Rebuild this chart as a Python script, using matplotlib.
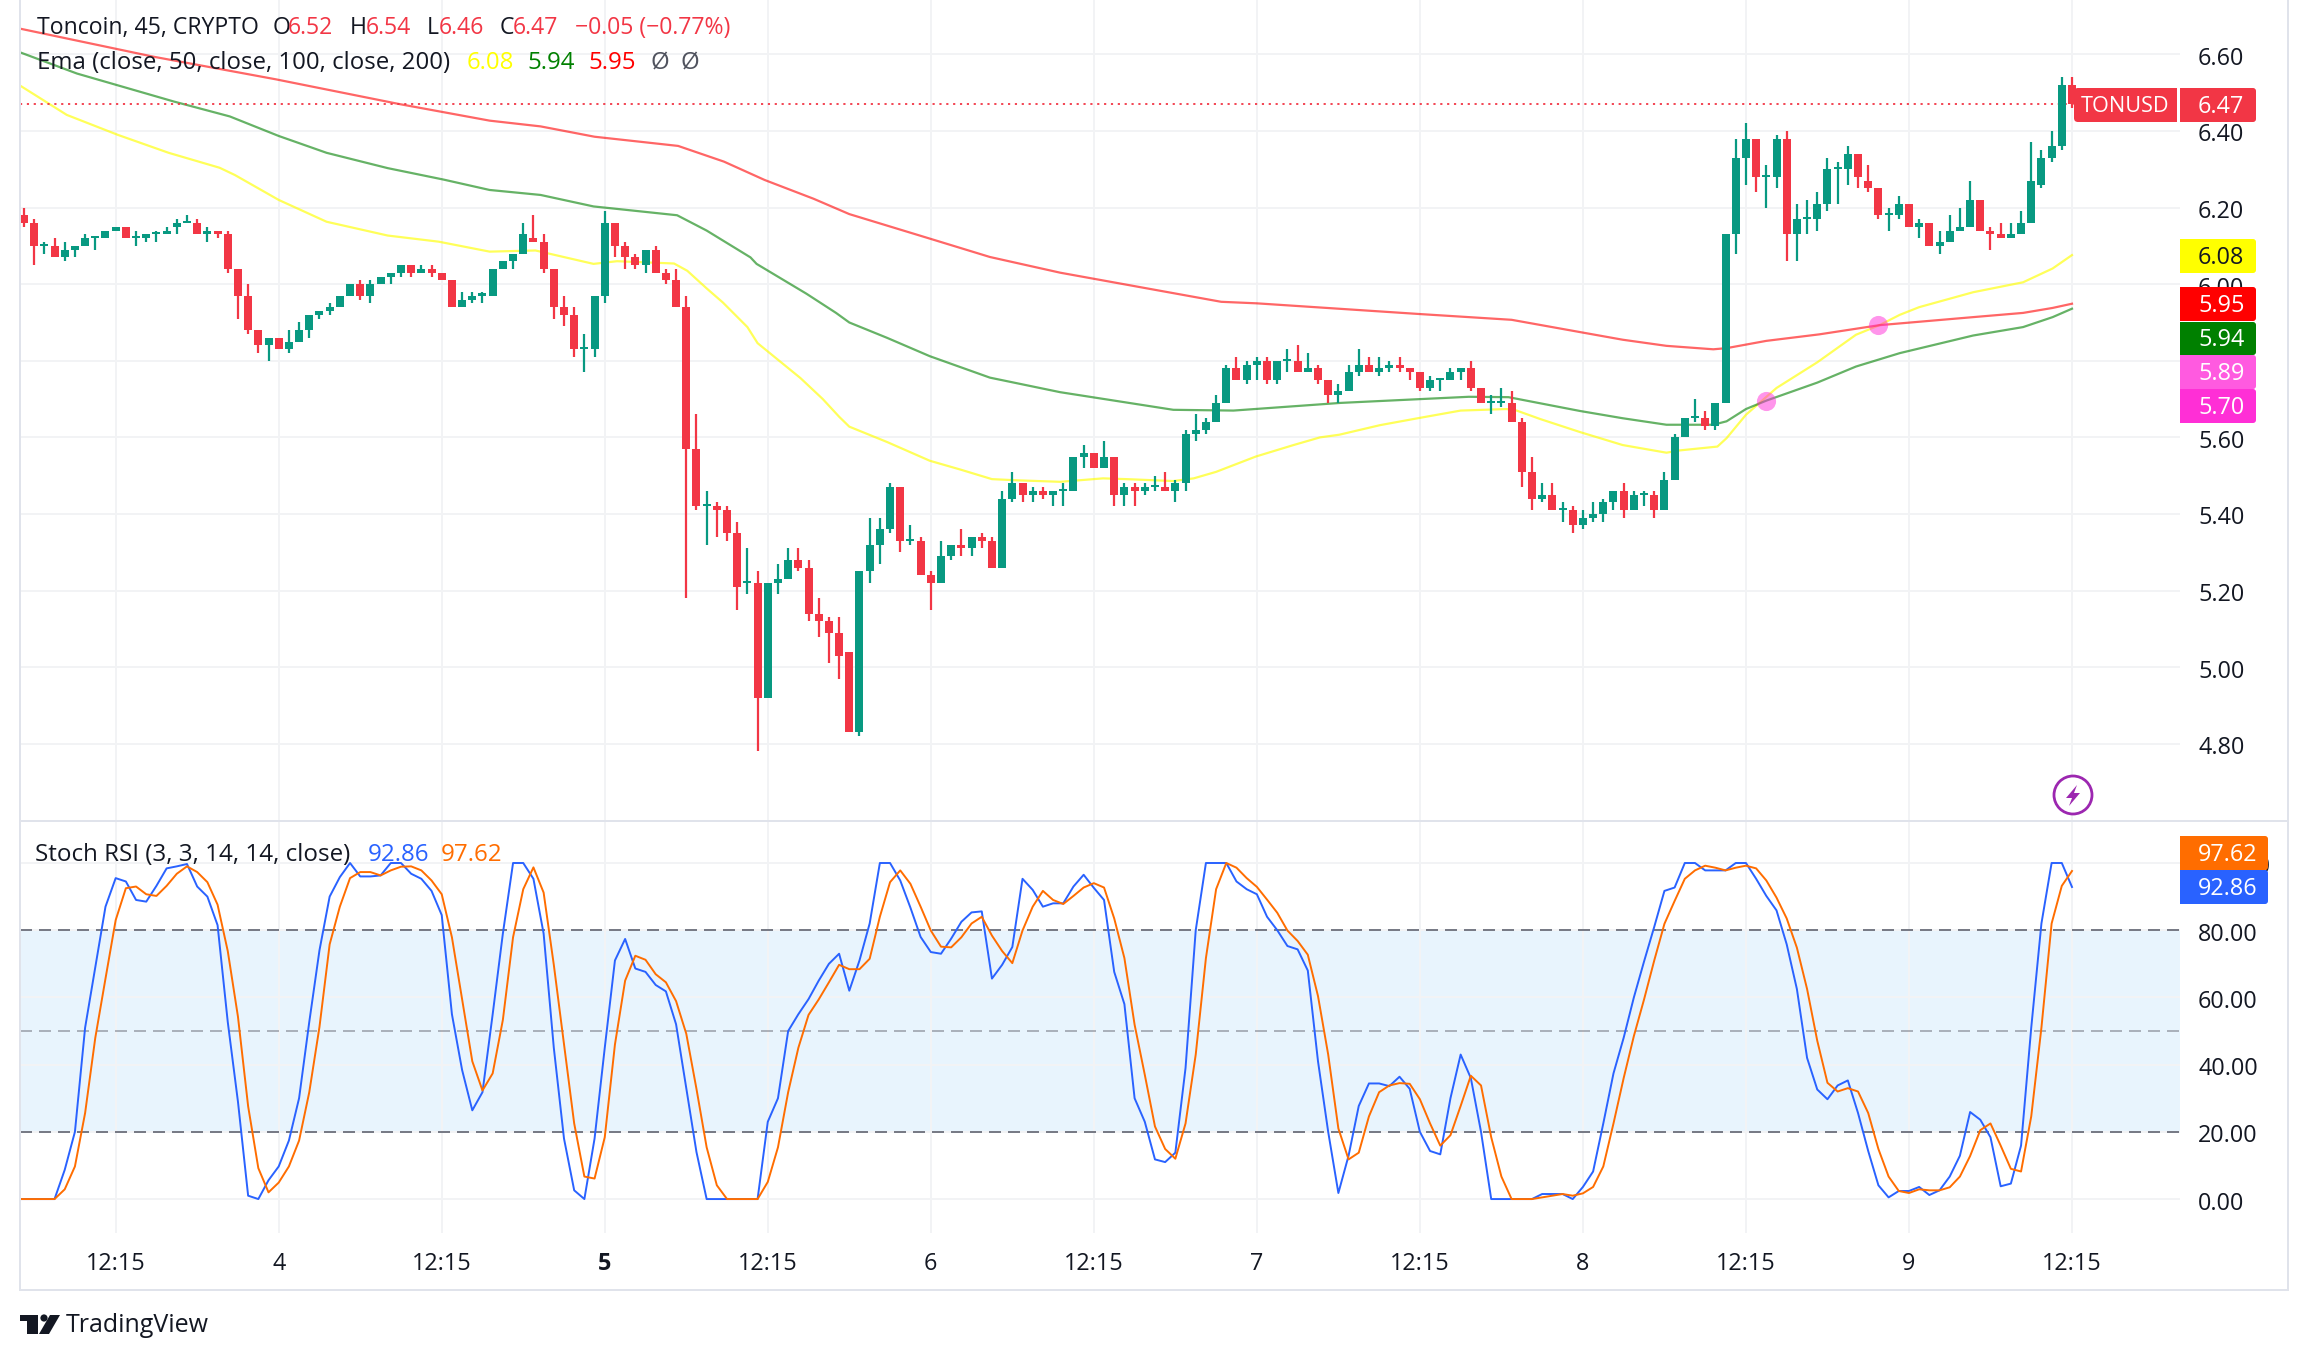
import matplotlib
matplotlib.use("Agg")
import matplotlib.pyplot as plt
import numpy as np
from matplotlib.patches import Rectangle, FancyBboxPatch, Polygon, Circle
from matplotlib.transforms import Affine2D, ScaledTranslation

plt.rcParams['font.family'] = ['Open Sans', 'DejaVu Sans']

W, H = 2308, 1360

opens = [6.18,6.16,6.10,6.10,6.07,6.09,6.10,6.12,6.12,6.14,
         6.15,6.12,6.12,6.13,6.13,6.15,6.16,6.16,6.13,6.14,
         6.13,6.04,5.97,5.88,5.84,5.86,5.83,5.85,5.88,5.92,
         5.93,5.94,5.97,6.00,5.97,6.00,6.02,6.03,6.05,6.03,
         6.04,6.03,6.01,5.94,5.96,5.97,5.97,6.04,6.06,6.08,
         6.12,6.11,6.04,5.94,5.92,5.83,5.83,5.97,6.16,6.10,
         6.07,6.05,6.09,6.03,6.01,5.94,5.57,5.42,5.42,5.41,
         5.35,5.22,5.22,4.92,5.22,5.23,5.28,5.26,5.14,5.12,
         5.09,5.04,4.83,5.25,5.32,5.36,5.47,5.33,5.33,5.24,
         5.22,5.29,5.32,5.31,5.34,5.33,5.26,5.44,5.48,5.45,
         5.46,5.45,5.46,5.46,5.55,5.56,5.52,5.55,5.45,5.47,
         5.46,5.47,5.47,5.46,5.48,5.61,5.62,5.64,5.69,5.78,
         5.75,5.79,5.80,5.75,5.80,5.80,5.77,5.78,5.75,5.71,
         5.72,5.77,5.79,5.77,5.78,5.79,5.78,5.77,5.73,5.75,
         5.75,5.77,5.78,5.73,5.69,5.69,5.69,5.64,5.51,5.44,
         5.45,5.41,5.41,5.37,5.39,5.40,5.43,5.46,5.41,5.45,
         5.45,5.41,5.49,5.60,5.65,5.65,5.63,5.69,6.13,6.33,
         6.38,6.28,6.28,6.38,6.13,6.17,6.17,6.21,6.30,6.30,
         6.34,6.27,6.25,6.18,6.18,6.21,6.15,6.16,6.10,6.11,
         6.14,6.15,6.22,6.14,6.13,6.12,6.13,6.16,6.26,6.33,
         6.36,6.52]
closes = [6.16,6.10,6.10,6.07,6.09,6.10,6.12,6.12,6.14,6.15,
          6.12,6.12,6.13,6.13,6.14,6.16,6.16,6.13,6.14,6.13,
          6.04,5.97,5.88,5.84,5.86,5.83,5.85,5.88,5.92,5.93,
          5.94,5.97,6.00,5.97,6.00,6.02,6.03,6.05,6.03,6.04,
          6.03,6.01,5.94,5.96,5.97,5.97,6.04,6.06,6.08,6.13,
          6.11,6.04,5.94,5.92,5.83,5.83,5.97,6.16,6.10,6.07,
          6.05,6.09,6.03,6.01,5.94,5.57,5.42,5.42,5.41,5.35,
          5.21,5.22,4.92,5.22,5.23,5.28,5.26,5.14,5.12,5.09,
          5.03,4.83,5.25,5.32,5.36,5.47,5.33,5.33,5.24,5.22,
          5.29,5.32,5.31,5.34,5.33,5.26,5.44,5.48,5.45,5.46,
          5.45,5.46,5.46,5.55,5.56,5.52,5.55,5.45,5.47,5.46,
          5.47,5.47,5.46,5.48,5.61,5.62,5.64,5.69,5.78,5.75,
          5.79,5.80,5.75,5.80,5.80,5.77,5.78,5.75,5.71,5.72,
          5.77,5.79,5.77,5.78,5.79,5.78,5.77,5.73,5.75,5.75,
          5.77,5.78,5.73,5.69,5.69,5.69,5.64,5.51,5.44,5.45,
          5.41,5.41,5.37,5.39,5.40,5.43,5.46,5.41,5.45,5.45,
          5.41,5.49,5.60,5.65,5.65,5.63,5.69,6.13,6.33,6.38,
          6.28,6.28,6.38,6.13,6.17,6.17,6.21,6.30,6.30,6.34,
          6.28,6.25,6.18,6.18,6.21,6.15,6.16,6.10,6.11,6.14,
          6.15,6.22,6.14,6.13,6.12,6.13,6.16,6.27,6.33,6.36,
          6.52,6.47]
highs = [6.20,6.17,6.11,6.12,6.11,6.10,6.13,6.12,6.14,6.15,
         6.15,6.14,6.13,6.14,6.15,6.17,6.18,6.17,6.15,6.14,
         6.14,6.04,6.00,5.88,5.86,5.86,5.88,5.90,5.92,5.93,
         5.95,5.97,6.00,6.01,6.01,6.02,6.03,6.05,6.05,6.05,
         6.05,6.03,6.01,5.98,5.98,5.98,6.04,6.06,6.08,6.16,
         6.18,6.13,6.04,5.97,5.94,5.87,5.97,6.19,6.16,6.11,
         6.08,6.09,6.10,6.04,6.04,5.97,5.66,5.46,5.43,5.42,
         5.38,5.31,5.25,5.22,5.27,5.31,5.31,5.28,5.18,5.13,
         5.13,5.04,5.25,5.39,5.39,5.48,5.47,5.37,5.34,5.25,
         5.33,5.32,5.36,5.34,5.35,5.34,5.46,5.51,5.48,5.47,
         5.47,5.46,5.48,5.55,5.58,5.56,5.59,5.55,5.48,5.48,
         5.48,5.50,5.51,5.49,5.62,5.66,5.65,5.71,5.79,5.81,
         5.80,5.81,5.81,5.80,5.83,5.84,5.82,5.79,5.75,5.74,
         5.79,5.83,5.81,5.81,5.80,5.81,5.78,5.77,5.76,5.75,
         5.78,5.78,5.80,5.73,5.71,5.73,5.72,5.65,5.55,5.48,
         5.48,5.43,5.42,5.41,5.43,5.44,5.46,5.48,5.46,5.46,
         5.46,5.51,5.61,5.65,5.70,5.67,5.69,6.13,6.38,6.42,
         6.38,6.31,6.39,6.40,6.21,6.22,6.24,6.33,6.32,6.36,
         6.34,6.31,6.25,6.20,6.23,6.21,6.17,6.16,6.14,6.18,
         6.20,6.27,6.22,6.15,6.16,6.16,6.19,6.37,6.35,6.40,
         6.54,6.54]
lows = [6.15,6.05,6.08,6.07,6.06,6.07,6.10,6.09,6.12,6.14,
        6.12,6.10,6.11,6.11,6.13,6.13,6.16,6.13,6.11,6.12,
        6.03,5.91,5.87,5.82,5.80,5.83,5.82,5.85,5.86,5.91,
        5.92,5.94,5.97,5.96,5.95,6.00,6.00,6.02,6.02,6.03,
        6.02,6.01,5.94,5.94,5.95,5.95,5.97,6.04,6.04,6.08,
        6.11,6.03,5.91,5.89,5.81,5.77,5.81,5.95,6.07,6.04,
        6.04,6.03,6.03,6.00,5.94,5.18,5.41,5.32,5.34,5.33,
        5.15,5.19,4.78,4.92,5.19,5.23,5.25,5.12,5.08,5.01,
        4.97,4.83,4.82,5.22,5.27,5.35,5.30,5.32,5.24,5.15,
        5.22,5.28,5.29,5.29,5.31,5.26,5.26,5.43,5.43,5.43,
        5.44,5.42,5.42,5.46,5.52,5.52,5.52,5.42,5.42,5.42,
        5.45,5.46,5.46,5.43,5.46,5.59,5.61,5.64,5.69,5.75,
        5.74,5.75,5.74,5.74,5.77,5.77,5.77,5.74,5.69,5.69,
        5.72,5.76,5.77,5.76,5.77,5.77,5.75,5.72,5.72,5.72,
        5.75,5.75,5.72,5.69,5.66,5.68,5.64,5.47,5.41,5.43,
        5.41,5.38,5.35,5.36,5.38,5.38,5.41,5.39,5.41,5.42,
        5.39,5.41,5.49,5.60,5.64,5.62,5.62,5.69,6.08,6.26,
        6.24,6.20,6.25,6.06,6.06,6.13,6.14,6.19,6.21,6.26,
        6.25,6.24,6.17,6.14,6.17,6.15,6.12,6.10,6.08,6.11,
        6.14,6.15,6.14,6.09,6.12,6.12,6.13,6.16,6.25,6.32,
        6.35,6.46]

# ema lines, read at the bars where they visibly bend
ema50_bars = [-0.35,4.2,9.2,14.2,19.2,20.7,25,29.7,35.7,40.7,45.7,50.2,55.9,58.2,63.8,65.1,67,68.6,71,72,76.2,78.4,80,81,84.7,88.9,91.9,95,97.4,101.7,105.9,108.2,112.8,114.8,117,120.9,124.6,127.2,129.1,133.1,137,141,145.5,146.5,148.8,152.7,156.9,161.2,162.5,166.2,167.1,169,172,176,179.8,182.1,184.1,186,191.3,196.2,199.1,201]
ema50 = [6.518,6.442,6.39,6.343,6.304,6.285,6.22,6.163,6.127,6.111,6.085,6.088,6.053,6.06,6.054,6.035,5.989,5.952,5.888,5.846,5.755,5.70,5.654,5.628,5.588,5.539,5.516,5.491,5.488,5.484,5.493,5.491,5.486,5.493,5.51,5.55,5.58,5.60,5.607,5.632,5.651,5.67,5.674,5.67,5.648,5.614,5.58,5.56,5.566,5.576,5.598,5.659,5.729,5.796,5.868,5.893,5.92,5.94,5.979,6.005,6.041,6.076]
ema100_bars = [-0.35,5.2,14.7,20.2,25,29.7,35.7,41.2,45.7,50.7,55.9,64.1,67,71.3,71.9,76.8,79.7,81,84.7,88.9,94.8,101.7,112.8,118.7,129.2,141.8,145.7,152.7,156.9,161.2,165.8,167.1,169,171,176,179.8,184.1,191.3,196.2,199.1,201]
ema100 = [6.605,6.55,6.477,6.438,6.387,6.343,6.303,6.273,6.246,6.233,6.203,6.18,6.14,6.07,6.053,5.975,5.925,5.90,5.86,5.812,5.756,5.718,5.672,5.67,5.69,5.706,5.705,5.669,5.65,5.633,5.633,5.642,5.674,5.696,5.743,5.785,5.82,5.866,5.888,5.914,5.936]
ema200_bars = [-0.35,12.7,24.7,36.7,45.7,50.7,56,64.2,68.7,72.7,77.5,81,88.9,94.8,101.7,117.5,121,137,146,152.7,156.9,161.2,165.8,167.1,171,176.2,182.1,191.3,196.2,199.1,201]
ema200 = [6.667,6.594,6.535,6.471,6.427,6.412,6.385,6.361,6.32,6.272,6.223,6.183,6.119,6.071,6.03,5.954,5.95,5.922,5.907,5.875,5.855,5.839,5.83,5.833,5.852,5.869,5.893,5.914,5.925,5.938,5.949]
cross_bars = [171, 182]
cross_vals = [5.696, 5.893]

stoch_k = [0,0,0,0,8.7,20,51,69,87,95.5,
           94.5,89,88.5,93.2,98.4,99,99.7,93,90,81.5,
           52.7,29,1,0,5.6,9.7,17.4,30,52.7,74,
           90,95.8,100,96,96,96.3,100,100,96.8,95.3,
           91.7,84.5,55,38.4,26.4,31.8,55,79,100,100,
           95.3,79,45,18,2.6,0,18,45,71,77.4,
           68.6,67.6,63.7,61.8,52,33,14,0,0,0,
           0,0,0,23,30,50,55,59.5,65,70,
           73,62,71,82,100,100,94.8,86.7,78,73.5,
           73,77.5,82.5,85.3,85.6,65.6,69.7,75,95.3,92,
           87,88,88,93,96.5,92.6,89,67.6,58,30,
           23,11.8,11,13.8,39,80,100,100,100,94.5,
           92.2,90.7,84,80,75.3,74.3,68,41,20,1.8,
           12.9,27.7,34.4,34.4,33.6,36.4,32.8,20,14.3,13.3,
           30,43,36,20,0,0,0,0,0,1.5,
           1.5,1.5,0,3.6,8.2,22.5,37.4,48,60,70.7,
           81,91.7,92.7,100,100,97.8,97.8,97.8,100,100,
           95.3,90.2,85.9,75.8,62.5,42,32.6,29.7,33.8,35.3,
           25.6,14.3,4.1,0.5,2.4,2.4,3.6,1.2,2.6,6.7,
           12.9,25.9,23.6,18.4,3.8,4.6,15.9,51,82,100,
           100,92.86]
stoch_d = [0,0,0,0,2.9,9.7,25.6,48,65.6,83,
           92.5,93,90.7,90.2,93.2,96.8,99,97.3,94.3,87.6,
           73.8,54.3,27.6,9.2,2,4.9,9.7,17.4,31.8,51.2,
           75.8,87,95.5,97.3,97.3,96.3,97.8,98.9,99,97.8,
           94.8,90.7,77.9,59.4,41,32.3,37.4,53.3,77.9,92.2,
           98.7,91.2,69.7,46,22.5,6.7,6.1,18.4,46,65,
           72.4,71.2,66.9,64.5,58.9,49.2,32.8,15.4,4.1,0,
           0,0,0,5.1,15.4,31.8,45,54.8,59.4,64.5,
           69.7,68.4,68.4,71.5,84,94.3,97.8,93.8,87,79.9,
           75.1,74.9,77.9,82,84,78.4,73.8,70.2,79.9,87,
           91.7,89,87.8,90.2,92.7,94,92.7,83.5,71.7,51.9,
           37,21.6,14.9,12,22.5,43,71.7,92.2,100,98.6,
           95.5,92.9,89.1,85.2,79.9,76.8,72.7,60.4,43,21,
           11.8,13.8,24.6,31.8,33.8,34.5,34.3,29.7,22.5,15.9,
           19,27.7,36.7,33.8,18.4,6.7,0,0,0,0.5,
           1,1.5,1,1.7,3.6,9.7,22.5,36,48.5,59.4,
           71,81.9,88.7,95.3,97.8,99.2,98.6,97.8,98.6,99.2,
           98.4,94.8,89.7,83.5,74.8,62.5,47.1,34.6,32,33,
           32,25.6,14.9,6.7,2.4,1.8,2.9,2.6,2.6,3.5,
           6.7,12.8,20.5,22.5,15.9,9,8.2,24.6,51,82,
           93.2,97.62]

price_ticks = [4.80,5.00,5.20,5.40,5.60,5.80,6.00,6.20,6.40,6.60]
stoch_ticks = [0,20,40,60,80,100]
time_bars = [9,25,41,57,73,89,105,121,137,153,169,185,201]
time_labels = ['12:15','4','12:15','5','12:15','6','12:15','7','12:15','8','12:15','9','12:15']

GREEN, RED = '#089981', '#F23645'
TEXT = '#131722'
GRID = '#f2f3f5'
BORDER = '#e0e3eb'
TICK_SIZE = 16.8

pix = Affine2D().scale(1, -1).translate(0, H)

fig = plt.figure(figsize=(W / 100, H / 100), dpi=100, facecolor='white')

def pane(top, bottom):
    return fig.add_axes([20 / W, 1 - bottom / H, 2160 / W, (bottom - top) / H])

ax = pane(0, 820)
ax2 = pane(822, 1233)
bars = np.arange(len(opens))

for a in (ax, ax2):
    a.set_xlim(-0.39, 211.6)
    a.set_xticks(time_bars)
    a.grid(True, color=GRID, linewidth=1.44)
    a.set_axisbelow(True)
    for s in a.spines.values():
        s.set_visible(False)
    a.yaxis.tick_right()
    a.tick_params(axis='y', length=0, pad=13, labelsize=TICK_SIZE, labelcolor=TEXT)
    a.tick_params(axis='x', length=0)

# main pane
ax.set_ylim(4.601, 6.742)
ax.set_yticks(price_ticks)
ax.set_yticklabels(['%.2f' % p for p in price_ticks])
ax.tick_params(axis='x', labelbottom=False)

ax.plot(ema50_bars, ema50, color='#FFFF00', alpha=0.65, lw=1.6, zorder=2)
ax.plot(ema100_bars, ema100, color='#008000', alpha=0.6, lw=1.6, zorder=2)
ax.plot(ema200_bars, ema200, color='#FF0000', alpha=0.6, lw=1.6, zorder=2)
ax.axhline(closes[-1], color=RED, lw=1.3, dashes=(1.2, 2.6), zorder=2.5)

o, c = np.array(opens), np.array(closes)
cols = [GREEN if c[i] >= o[i] else RED for i in bars]
min_h = 2.2 / 383
heights = np.maximum(np.abs(c - o), min_h)
ax.vlines(bars, lows, highs, colors=cols, lw=1.6, zorder=3)
ax.bar(bars, heights, bottom=np.minimum(o, c), width=0.785, color=cols, linewidth=0, zorder=3.1)
ax.scatter(cross_bars, cross_vals, s=190, color='#FF2DD8', alpha=0.5, linewidth=0, zorder=4)

# stoch pane
ax2.set_ylim(-10.1, 112.2)
ax2.set_yticks(stoch_ticks)
ax2.set_yticklabels(['%.2f' % v for v in stoch_ticks])
ax2.set_xticklabels(time_labels)
ax2.tick_params(axis='x', pad=14, labelsize=TICK_SIZE, labelcolor=TEXT)
ax2.get_xticklabels()[3].set_fontweight('bold')

# tick labels sit a touch lower in the reference
nudge = ScaledTranslation(0, -1.5 / 100, fig.dpi_scale_trans)
for a in (ax, ax2):
    for lab in a.get_yticklabels():
        lab.set_transform(lab.get_transform() + nudge)

ax2.axhspan(20, 80, color='#2196F3', alpha=0.1, linewidth=0, zorder=0.5)
ax2.axhline(80, color='#787B86', lw=1.44, dashes=(6, 3.5), zorder=1.5)
ax2.axhline(50, color='#787B86', alpha=0.55, lw=1.44, dashes=(6, 3.5), zorder=1.5)
ax2.axhline(20, color='#787B86', lw=1.44, dashes=(6, 3.5), zorder=1.5)
# the series carry on left of the first full bar at zero
ax2.plot(np.r_[-1, bars], np.r_[stoch_k[0], stoch_k], color='#2962FF', lw=1.4, zorder=3)
ax2.plot(np.r_[-1, bars], np.r_[stoch_d[0], stoch_d], color='#FF6D00', lw=1.4, zorder=3.1)

# frame
for x0, y0, x1, y1 in [(20, 0, 20, 1290), (2288, 0, 2288, 1290), (20, 1290, 2288, 1290), (20, 821, 2288, 821)]:
    fig.add_artist(plt.Line2D([x0, x1], [y0, y1], transform=pix, color=BORDER, lw=1.44, zorder=1))


def label_box(x0, x1, ytop, ybot, color, text, tcolor='white'):
    fig.add_artist(FancyBboxPatch((x0, ytop), x1 - x0, ybot - ytop, boxstyle='round,pad=0,rounding_size=3',
                                  transform=pix, facecolor=color, edgecolor='none', mutation_aspect=1, zorder=2))
    fig.add_artist(Rectangle((x0, ytop), 6, ybot - ytop, transform=pix, facecolor=color, edgecolor='none', zorder=2))
    fig.text(2198, (ytop + ybot) / 2 + 2, text, transform=pix, ha='left', va='center', color=tcolor,
             fontsize=TICK_SIZE, zorder=3)


label_box(2180, 2256, 88, 122, RED, '%.2f' % closes[-1])
label_box(2180, 2256, 239, 273, '#FFFF00', '%.2f' % ema50[-1], TEXT)
label_box(2180, 2256, 287, 321, '#FF0000', '%.2f' % ema200[-1])
label_box(2180, 2256, 322, 355, '#008000', '%.2f' % ema100[-1])
label_box(2180, 2256, 355, 389, '#FF5AE0', '%.2f' % cross_vals[1])
label_box(2180, 2256, 389, 423, '#FF2FD6', '%.2f' % cross_vals[0])
label_box(2180, 2268, 836, 870, '#FF6D00', '%.2f' % stoch_d[-1])
label_box(2180, 2268, 870, 904, '#2962FF', '%.2f' % stoch_k[-1])

# TONUSD tag next to the price label
fig.add_artist(FancyBboxPatch((2074, 88), 103, 34, boxstyle='round,pad=0,rounding_size=4', transform=pix,
                              facecolor=RED, edgecolor='none', zorder=2))
fig.add_artist(Rectangle((2110, 88), 67, 34, transform=pix, facecolor=RED, edgecolor='none', zorder=2))
fig.text(2125, 107, 'TONUSD', transform=pix, ha='center', va='center', color='white', fontsize=15.6, zorder=3)


def legend_row(y, parts, size):
    for x, s, col in parts:
        fig.text(x, y, s, transform=pix, ha='left', va='center', color=col, fontsize=size, zorder=4)


legend_row(28, [(37, 'Toncoin, 45, CRYPTO', TEXT), (273, 'O', TEXT), (288, '6.52', RED), (350, 'H', TEXT),
                (366, '6.54', RED), (427, 'L', TEXT), (439, '6.46', RED), (500, 'C', TEXT), (513, '6.47', RED),
                (575, '\u22120.05 (\u22120.77%)', RED)], 16.6)
legend_row(63, [(37, 'Ema (close, 50, close, 100, close, 200)', TEXT), (467, '6.08', '#FFFF00'),
                (527, '5.94', '#008000'), (588, '5.95', '#FF0000'), (650, '\u00d8', '#50535e'), (680, '\u00d8', '#50535e')], 17.3)
legend_row(855, [(35, 'Stoch RSI (3, 3, 14, 14, close)', TEXT), (368, '92.86', '#2962FF'), (441, '97.62', '#FF6D00')], 17.4)

# lightning button
fig.add_artist(Circle((2073, 795), 19, transform=pix, facecolor='white', edgecolor='#9C27B0', lw=2, zorder=2))
fig.add_artist(Polygon([(2077, 785), (2066, 798), (2072, 798), (2069, 806), (2080, 793), (2074, 793)], transform=pix,
                       facecolor='#9C27B0', edgecolor='none', zorder=3))

# logo
fig.add_artist(Polygon([(20, 1315), (38, 1315), (38, 1334), (27, 1334), (27, 1321), (20, 1321)], transform=pix,
                       facecolor=TEXT, edgecolor='none', zorder=3))
fig.add_artist(Circle((44, 1318), 3.6, transform=pix, facecolor=TEXT, edgecolor='none', zorder=3))
fig.add_artist(Polygon([(50, 1315), (60, 1315), (49, 1334), (39, 1334)], transform=pix,
                       facecolor=TEXT, edgecolor='none', zorder=3))
fig.text(66, 1325, 'TradingView', transform=pix, ha='left', va='center', color=TEXT, fontsize=18, zorder=3)

fig.savefig('out.png', dpi=100)
